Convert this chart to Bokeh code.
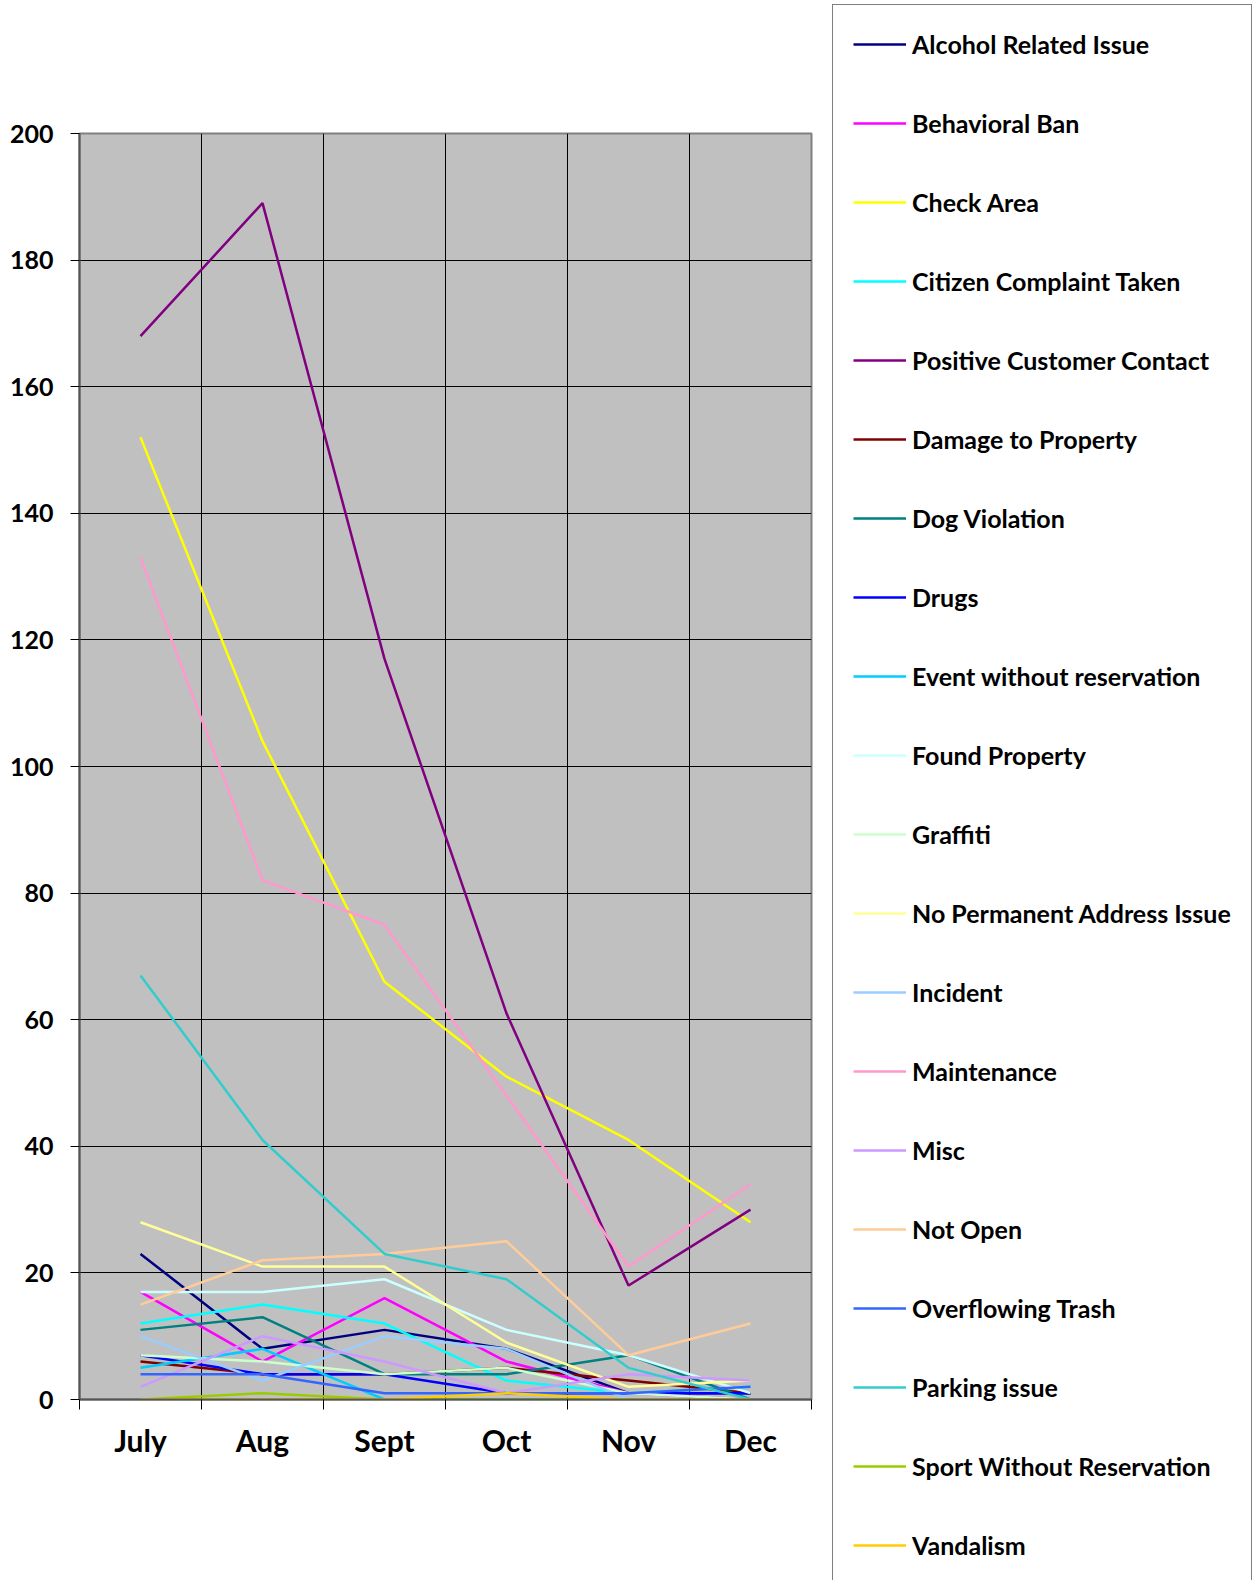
from bokeh.plotting import figure
from bokeh.models import Range1d, FixedTicker, CustomJSTickFormatter, Legend, LegendItem
from bokeh.embed import file_html
from bokeh.resources import INLINE

months = ["July", "Aug", "Sept", "Oct", "Nov", "Dec"]
y_ticks = [0, 20, 40, 60, 80, 100, 120, 140, 160, 180, 200]

alcohol = [23, 8, 11, 8, 1, 1]
behavioral = [17, 6, 16, 6, 1, 0]
check_area = [152, 104, 66, 51, 41, 28]
citizen = [12, 15, 12, 3, 1, 2]
positive = [168, 189, 117, 61, 18, 30]
damage = [6, 4, 4, 5, 3, 1]
dog = [11, 13, 4, 4, 7, 0]
drugs = [7, 4, 4, 1, 1, 1]
event = [5, 8, 0, 0, 0, 0]
found = [17, 17, 19, 11, 7, 1]
graffiti = [7, 6, 4, 5, 1, 0]
no_address = [28, 21, 21, 9, 2, 3]
incident = [10, 3, 10, 8, 0, 0]
maintenance = [133, 82, 75, 48, 21, 34]
misc = [2, 10, 6, 1, 4, 3]
not_open = [15, 22, 23, 25, 7, 12]
overflow = [4, 4, 1, 1, 1, 2]
parking = [67, 41, 23, 19, 5, 0]
sport = [0, 1, 0, 0, 0, 0]
vandalism = [0, 0, 0, 1, 0, 0]

series = [
    ("Alcohol Related Issue", alcohol, "#000080"),
    ("Behavioral Ban", behavioral, "#FF00FF"),
    ("Check Area", check_area, "#FFFF00"),
    ("Citizen Complaint Taken", citizen, "#00FFFF"),
    ("Positive Customer Contact", positive, "#800080"),
    ("Damage to Property", damage, "#800000"),
    ("Dog Violation", dog, "#008080"),
    ("Drugs", drugs, "#0000FF"),
    ("Event without reservation", event, "#00CCFF"),
    ("Found Property", found, "#CCFFFF"),
    ("Graffiti", graffiti, "#CCFFCC"),
    ("No Permanent Address Issue", no_address, "#FFFF99"),
    ("Incident", incident, "#99CCFF"),
    ("Maintenance", maintenance, "#FF99CC"),
    ("Misc", misc, "#CC99FF"),
    ("Not Open", not_open, "#FFCC99"),
    ("Overflowing Trash", overflow, "#3366FF"),
    ("Parking issue", parking, "#33CCCC"),
    ("Sport Without Reservation", sport, "#99CC00"),
    ("Vandalism", vandalism, "#FFCC00"),
]

FONT = "Lato"
H = 1580
CHART_W = 813

# ---------------- chart ----------------
p = figure(width=CHART_W, height=H, output_backend="svg", toolbar_location=None,
           x_range=Range1d(0, len(months)), y_range=Range1d(0, 200),
           min_border_left=79, min_border_right=2, min_border_top=133,
           min_border_bottom=H - 133 - 1266)
p.background_fill_color = "#C0C0C0"
p.border_fill_color = "white"
p.outline_line_color = "#808080"
p.outline_line_width = 2

xs = [i + 0.5 for i in range(len(months))]
for name, vals, color in series:
    p.line(xs, vals, line_color=color, line_width=2.5)

# x axis: labels at month centres, tick marks at boundaries
p.xaxis.ticker = FixedTicker(ticks=xs, minor_ticks=list(range(len(months) + 1)))
p.xaxis.formatter = CustomJSTickFormatter(args=dict(months=months),
                                          code="return months[Math.floor(tick)];")
p.xaxis.major_tick_out = 0
p.xaxis.major_tick_in = 0
p.xaxis.minor_tick_out = 10
p.xaxis.minor_tick_in = 0
p.xaxis.minor_tick_line_color = "black"
p.xaxis.major_label_standoff = 12
p.xaxis.major_label_text_font_size = "30px"
p.xgrid.grid_line_color = None
p.xgrid.minor_grid_line_color = "black"
p.xgrid.minor_grid_line_width = 1

p.yaxis.ticker = FixedTicker(ticks=y_ticks)
p.yaxis.major_tick_out = 9
p.yaxis.major_tick_in = 0
p.yaxis.minor_tick_line_color = None
p.yaxis.major_label_standoff = 17
p.yaxis.major_label_text_font_size = "25px"
p.ygrid.grid_line_color = "black"
p.ygrid.grid_line_width = 1

p.axis.axis_line_color = "#555555"
p.axis.axis_line_width = 2
p.axis.major_tick_line_color = "black"
p.axis.major_label_text_font = FONT
p.axis.major_label_text_font_style = "bold"
p.axis.major_label_text_color = "black"

# ---------------- legend panel (separate root, placed to the right) ----------------
lg = figure(width=1256 - CHART_W, height=H, output_backend="svg", toolbar_location=None,
            x_range=Range1d(0, len(months)), y_range=Range1d(-2000, -1000),
            x_axis_type=None, y_axis_type=None, min_border=0,
            styles={"position": "absolute", "left": f"{CHART_W}px", "top": "0px"})
lg.background_fill_color = "white"
lg.border_fill_color = "white"
lg.outline_line_color = None
items = []
for name, vals, color in series:
    r = lg.line(xs, vals, line_color=color, line_width=2.5)
    items.append(LegendItem(label=name, renderers=[r]))

legend = Legend(items=items, location=(19, -5), orientation="vertical",
                label_text_font=FONT, label_text_font_style="bold",
                label_text_font_size="25px", label_text_color="black",
                glyph_width=53, glyph_height=38, label_height=38, label_width=318,
                label_standoff=6, spacing=41, padding=20,
                border_line_color="black", border_line_width=1,
                background_fill_color="white", background_fill_alpha=1.0,
                margin=0)
lg.add_layout(legend)

open("out.html", "w").write(file_html([p, lg], INLINE))
